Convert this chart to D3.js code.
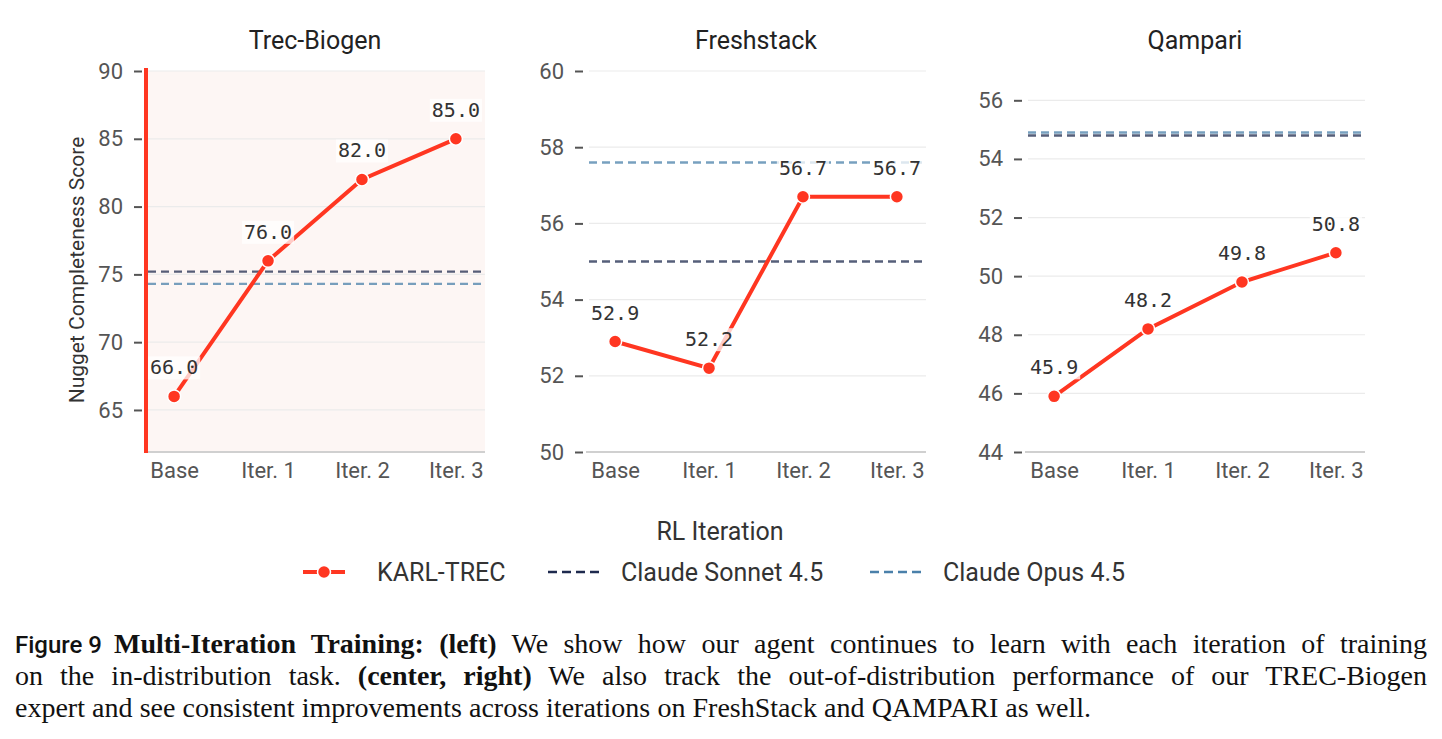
<!DOCTYPE html>
<html>
<head>
<meta charset="utf-8">
<script src="https://cdn.jsdelivr.net/npm/d3@7"></script>
<style>
  body { margin: 0; background: #fff; }
  svg { display: block; }
</style>
</head>
<body>
<div id="chart"></div>
<script>
let width = 1442;
let height = 739;

// data
let iterations = ["Base", "Iter. 1", "Iter. 2", "Iter. 3"];
let datasets = ["Trec-Biogen", "Freshstack", "Qampari"];
let karlScores = [
    [66.0, 76.0, 82.0, 85.0],
    [52.9, 52.2, 56.7, 56.7],
    [45.9, 48.2, 49.8, 50.8]
];
let sonnetScores = [75.2, 55.0, 54.8];
let opusScores = [74.3, 57.6, 54.9];
let yDomains = [[61.9, 90], [50, 60], [44, 57]];
let yTicks = [
    [65, 70, 75, 80, 85, 90],
    [50, 52, 54, 56, 58, 60],
    [44, 46, 48, 50, 52, 54, 56]
];
let seriesNames = ["KARL-TREC", "Claude Sonnet 4.5", "Claude Opus 4.5"];

let red = "#ff3621";
let sonnetColor = "#1e2a4e";
let opusColor = "#4a80aa";
let font = "Roboto, 'Noto Sans', sans-serif";

let svg = d3.select("#chart")
    .append("svg")
    .attr("width", width)
    .attr("height", height);

let panelLefts = [145, 586, 1025];
let panelWidth = 340;
let plotTop = 71;
let plotBottom = 452;

datasets.forEach(function (name, i) {
    let x0 = panelLefts[i];
    let g = svg.append("g");

    let x = d3.scalePoint()
        .domain(iterations)
        .range([x0, x0 + panelWidth])
        .padding(0.31);
    let y = d3.scaleLinear()
        .domain(yDomains[i])
        .range([plotBottom, plotTop]);

    // highlighted in-distribution panel
    if (i === 0) {
        g.append("rect")
            .attr("x", x0)
            .attr("y", plotTop)
            .attr("width", panelWidth)
            .attr("height", plotBottom - plotTop)
            .style("fill", "#fdf6f4");
    }

    // grid
    g.selectAll(".grid")
        .data(yTicks[i])
        .enter().append("line")
        .attr("x1", x0 + 3)
        .attr("x2", x0 + panelWidth)
        .attr("y1", d => y(d))
        .attr("y2", d => y(d))
        .style("stroke", "#ebebeb")
        .style("stroke-width", 1.2);

    // y axis
    let yAxis = g.append("g")
        .attr("transform", "translate(" + (x0 - 3) + ",0)")
        .call(d3.axisLeft(y).tickValues(yTicks[i]).tickSize(8).tickPadding(11));
    yAxis.select(".domain").remove();
    yAxis.selectAll(".tick line").style("stroke", "#555").style("stroke-width", 2);
    yAxis.selectAll(".tick text")
        .style("font-family", font)
        .style("font-size", "22px")
        .style("fill", "#555");

    // x axis labels
    let xAxis = g.append("g")
        .attr("transform", "translate(0," + plotBottom + ")")
        .call(d3.axisBottom(x).tickSize(0).tickPadding(10));
    xAxis.select(".domain").remove();
    xAxis.selectAll(".tick text")
        .style("font-family", font)
        .style("font-size", "22px")
        .style("fill", "#555");

    // bottom spine
    g.append("line")
        .attr("x1", x0)
        .attr("x2", x0 + panelWidth)
        .attr("y1", plotBottom)
        .attr("y2", plotBottom)
        .style("stroke", "#d0d0d0")
        .style("stroke-width", 2);

    if (i === 0) {
        g.append("line")
            .attr("x1", x0 + 1)
            .attr("x2", x0 + 1)
            .attr("y1", plotTop - 3)
            .attr("y2", plotBottom + 1)
            .style("stroke", red)
            .style("stroke-width", 4);
    }

    // title
    g.append("text")
        .attr("x", x0 + panelWidth / 2)
        .attr("y", 49)
        .attr("text-anchor", "middle")
        .style("font-family", font)
        .style("font-size", "25px")
        .style("fill", "#222")
        .text(name);

    // reference lines
    [[sonnetScores[i], sonnetColor], [opusScores[i], opusColor]].forEach(function (ref) {
        g.append("line")
            .attr("x1", x0 + 3)
            .attr("x2", x0 + panelWidth)
            .attr("y1", y(ref[0]))
            .attr("y2", y(ref[0]))
            .style("stroke", ref[1])
            .style("stroke-opacity", 0.75)
            .style("stroke-width", 2.4)
            .style("stroke-dasharray", "8,5");
    });

    // KARL line
    let points = iterations.map((it, j) => ({ it: it, v: karlScores[i][j] }));
    let line = d3.line()
        .x(d => x(d.it))
        .y(d => y(d.v));
    g.append("path")
        .attr("d", line(points))
        .style("fill", "none")
        .style("stroke", red)
        .style("stroke-width", 4);

    g.selectAll(".pt")
        .data(points)
        .enter().append("circle")
        .attr("cx", d => x(d.it))
        .attr("cy", d => y(d.v))
        .attr("r", 6.5)
        .style("fill", red)
        .style("stroke", "#fff")
        .style("stroke-width", 1.5);

    // value labels with a white box
    points.forEach(function (d) {
        let lg = g.append("g");
        let t = lg.append("text")
            .attr("x", x(d.it))
            .attr("y", y(d.v) - 22)
            .attr("text-anchor", "middle")
            .style("font-family", "'DejaVu Sans Mono', monospace")
            .style("font-size", "20px")
            .style("fill", "#333")
            .text(d.v.toFixed(1));
        let b = t.node().getBBox();
        lg.insert("rect", "text")
            .attr("x", b.x - 2)
            .attr("y", b.y + 1)
            .attr("width", b.width + 4)
            .attr("height", b.height - 1)
            .style("fill", "#fff")
            .style("fill-opacity", 0.75);
    });
});

// y axis title
svg.append("text")
    .attr("transform", "translate(84,270) rotate(-90)")
    .attr("text-anchor", "middle")
    .style("font-family", font)
    .style("font-size", "21px")
    .style("fill", "#333")
    .text("Nugget Completeness Score");

// x axis title
svg.append("text")
    .attr("x", 720)
    .attr("y", 540)
    .attr("text-anchor", "middle")
    .style("font-family", font)
    .style("font-size", "25px")
    .style("fill", "#333")
    .text("RL Iteration");

// legend
let legend = svg.append("g");
let legendX = [303, 548, 870];
let legendColors = [red, sonnetColor, opusColor];
seriesNames.forEach(function (name, i) {
    let lx = legendX[i];
    let ly = 572;
    if (i === 0) {
        legend.append("line")
            .attr("x1", lx).attr("x2", lx + 42)
            .attr("y1", ly).attr("y2", ly)
            .style("stroke", red).style("stroke-width", 4);
        legend.append("circle")
            .attr("cx", lx + 21).attr("cy", ly).attr("r", 6.5)
            .style("fill", red).style("stroke", "#fff").style("stroke-width", 1.5);
    } else {
        legend.append("line")
            .attr("x1", lx).attr("x2", lx + 52)
            .attr("y1", ly).attr("y2", ly)
            .style("stroke", legendColors[i]).style("stroke-width", 2.4)
            .style("stroke-dasharray", "9,5");
    }
    legend.append("text")
        .attr("x", i === 0 ? lx + 74 : lx + 73)
        .attr("y", ly + 9)
        .style("font-family", font)
        .style("font-size", "25px")
        .style("fill", "#333")
        .text(name);
});

// caption, justified by stretching the word gaps
let cap = svg.append("g")
    .attr("font-family", "Liberation Serif, DejaVu Serif, serif")
    .attr("font-size", 28)
    .attr("fill", "#111");

function justify(t, target, gaps) {
    let w = t.node().getComputedTextLength();
    t.attr("word-spacing", Math.max(0, (target - w) / gaps));
}

let l1 = cap.append("text").attr("x", 15).attr("y", 653);
l1.append("tspan")
    .attr("font-family", "Roboto, Liberation Sans, sans-serif")
    .attr("font-weight", 500)
    .attr("font-size", 24)
    .attr("word-spacing", 0)
    .text("Figure 9");
l1.append("tspan").attr("dx", 12).attr("font-weight", "bold").text("Multi-Iteration Training: (left)");
l1.append("tspan").text(" We show how our agent continues to learn with each iteration of training");
// the dx gap is not in the measured length
justify(l1, 1400, 15);

let l2 = cap.append("text").attr("x", 15).attr("y", 685);
l2.append("tspan").text("on the in-distribution task. ");
l2.append("tspan").attr("font-weight", "bold").text("(center, right)");
l2.append("tspan").text(" We also track the out-of-distribution performance of our TREC-Biogen");
justify(l2, 1412, 14);

let l3 = cap.append("text").attr("x", 15).attr("y", 717)
    .text("expert and see consistent improvements across iterations on FreshStack and QAMPARI as well.");
justify(l3, 1076, 12);
</script>
</body>
</html>
